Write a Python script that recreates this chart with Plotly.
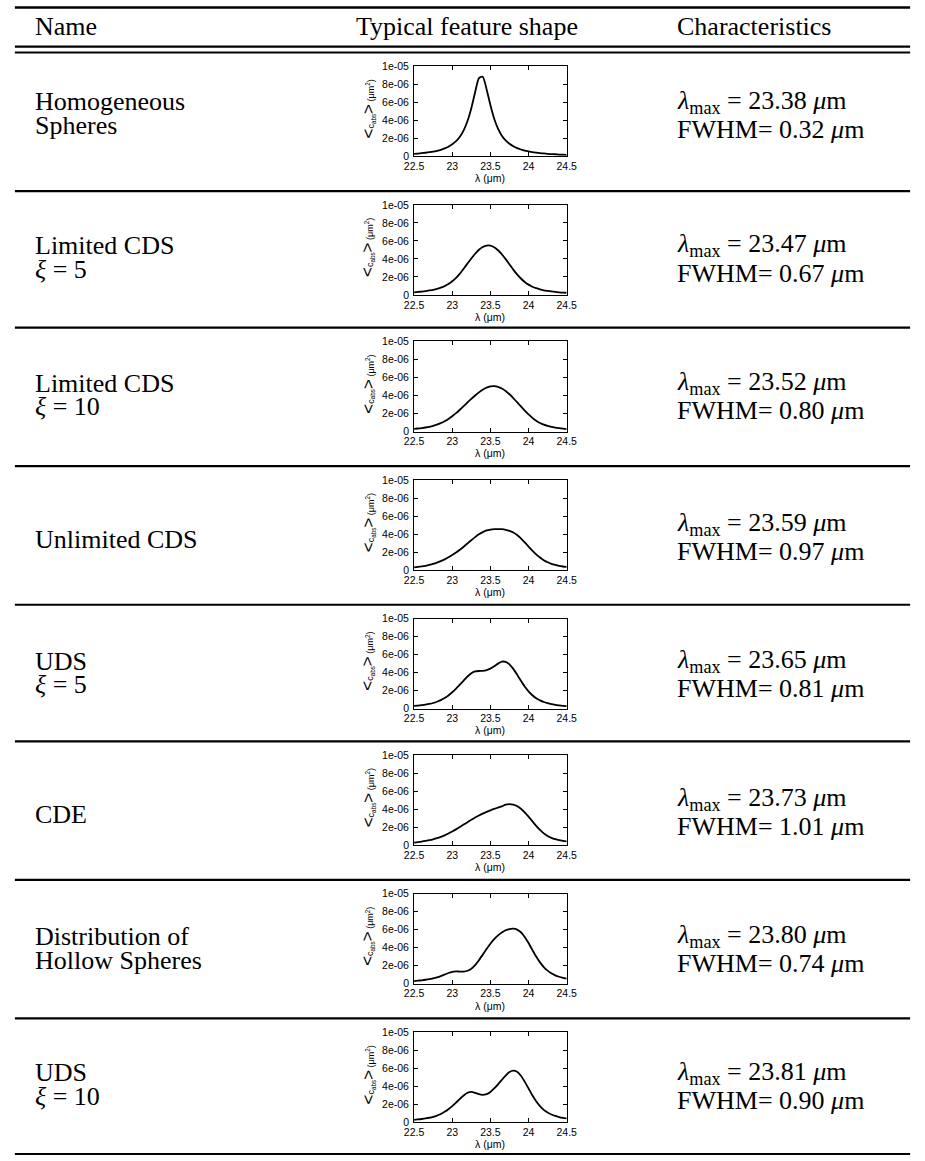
import plotly.graph_objects as go

# Wavelength sampling (micron) shared by every absorption profile
wavelength = [22.50, 22.55, 22.60, 22.65, 22.70, 22.75, 22.80, 22.85, 22.90, 22.95,
              23.00, 23.05, 23.10, 23.15, 23.20, 23.25, 23.30, 23.35, 23.40, 23.45,
              23.50, 23.55, 23.60, 23.65, 23.70, 23.75, 23.80, 23.85, 23.90, 23.95,
              24.00, 24.05, 24.10, 24.15, 24.20, 24.25, 24.30, 24.35, 24.40, 24.45,
              24.50]

# Mean absorption cross section <C_abs> in units of 1e-6 micron^2
homogeneous_spheres = [0.28, 0.32, 0.36, 0.41, 0.47, 0.54, 0.63, 0.74, 0.89, 1.08,
                       1.34, 1.69, 2.19, 2.90, 3.93, 5.36, 7.12, 8.70, 8.85, 7.47,
                       5.70, 4.18, 3.08, 2.31, 1.78, 1.40, 1.13, 0.92, 0.77, 0.65,
                       0.56, 0.48, 0.42, 0.37, 0.33, 0.29, 0.26, 0.24, 0.21, 0.19,
                       0.18]
limited_cds_5 = [0.30, 0.34, 0.38, 0.43, 0.50, 0.58, 0.68, 0.82, 0.99, 1.22,
                 1.52, 1.90, 2.38, 2.92, 3.49, 4.05, 4.58, 5.02, 5.33, 5.49,
                 5.48, 5.30, 4.97, 4.52, 3.98, 3.40, 2.82, 2.29, 1.83, 1.45,
                 1.15, 0.92, 0.75, 0.62, 0.52, 0.45, 0.39, 0.34, 0.30, 0.27,
                 0.25]
limited_cds_10 = [0.30, 0.34, 0.39, 0.45, 0.53, 0.63, 0.76, 0.93, 1.14, 1.40,
                  1.70, 2.04, 2.42, 2.82, 3.23, 3.63, 4.01, 4.35, 4.65, 4.88,
                  5.02, 5.05, 4.97, 4.78, 4.50, 4.14, 3.72, 3.26, 2.79, 2.33,
                  1.90, 1.52, 1.20, 0.95, 0.76, 0.62, 0.51, 0.43, 0.37, 0.32,
                  0.28]
unlimited_cds = [0.30, 0.35, 0.41, 0.48, 0.57, 0.68, 0.82, 0.99, 1.19, 1.42,
                 1.67, 1.95, 2.26, 2.60, 2.96, 3.32, 3.66, 3.97, 4.22, 4.40,
                 4.50, 4.55, 4.56, 4.54, 4.48, 4.36, 4.17, 3.89, 3.52, 3.08,
                 2.62, 2.17, 1.75, 1.39, 1.10, 0.87, 0.70, 0.57, 0.47, 0.40,
                 0.35]
uds_5 = [0.30, 0.34, 0.39, 0.45, 0.53, 0.63, 0.77, 0.95, 1.18, 1.47,
         1.82, 2.22, 2.66, 3.12, 3.57, 3.94, 4.13, 4.18, 4.20, 4.28,
         4.44, 4.70, 5.00, 5.22, 5.20, 4.92, 4.42, 3.78, 3.10, 2.46,
         1.92, 1.49, 1.16, 0.92, 0.74, 0.61, 0.51, 0.43, 0.37, 0.32,
         0.28]
cde = [0.30, 0.35, 0.41, 0.48, 0.56, 0.66, 0.78, 0.93, 1.10, 1.30,
       1.52, 1.76, 2.02, 2.29, 2.56, 2.82, 3.07, 3.30, 3.51, 3.70,
       3.87, 4.03, 4.18, 4.32, 4.50, 4.56, 4.50, 4.34, 4.06, 3.66,
       3.18, 2.66, 2.15, 1.70, 1.32, 1.03, 0.82, 0.67, 0.56, 0.48,
       0.42]
hollow_spheres = [0.30, 0.34, 0.39, 0.45, 0.52, 0.61, 0.72, 0.86, 1.03, 1.20,
                  1.32, 1.37, 1.36, 1.36, 1.45, 1.68, 2.08, 2.62, 3.23, 3.86,
                  4.44, 4.95, 5.37, 5.70, 5.94, 6.08, 6.12, 6.02, 5.72, 5.20,
                  4.52, 3.76, 3.02, 2.38, 1.86, 1.46, 1.16, 0.94, 0.78, 0.66,
                  0.57]
uds_10 = [0.28, 0.32, 0.37, 0.43, 0.51, 0.61, 0.75, 0.93, 1.17, 1.46,
          1.80, 2.19, 2.60, 2.98, 3.28, 3.38, 3.28, 3.12, 3.06, 3.14,
          3.38, 3.76, 4.22, 4.72, 5.20, 5.58, 5.75, 5.62, 5.18, 4.52,
          3.76, 3.00, 2.34, 1.80, 1.39, 1.09, 0.87, 0.71, 0.59, 0.50,
          0.43]

profiles = [homogeneous_spheres, limited_cds_5, limited_cds_10, unlimited_cds,
            uds_5, cde, hollow_spheres, uds_10]

# Table text
names = [["Homogeneous", "Spheres"],
         ["Limited CDS", "<i>ξ</i> = 5"],
         ["Limited CDS", "<i>ξ</i> = 10"],
         ["Unlimited CDS"],
         ["UDS", "<i>ξ</i> = 5"],
         ["CDE"],
         ["Distribution of", "Hollow Spheres"],
         ["UDS", "<i>ξ</i> = 10"]]
lambda_max = ["23.38", "23.47", "23.52", "23.59", "23.65", "23.73", "23.80", "23.81"]
fwhm = ["0.32", "0.67", "0.80", "0.97", "0.81", "1.01", "0.74", "0.90"]

x_ticks = [22.5, 23, 23.5, 24, 24.5]
x_tick_text = ["22.5", "23", "23.5", "24", "24.5"]
y_ticks = [0, 2e-6, 4e-6, 6e-6, 8e-6, 1e-5]
y_tick_text = ["0", "2e-06", "4e-06", "6e-06", "8e-06", "1e-05"]

# ---- page geometry (pixels) ----
W, H = 925, 1161
row_rule = [47, 187, 325, 465, 605, 743, 883, 1023]   # rule above each row
bottom_rule = 1160
text_center = [109, 254, 393, 539, 674, 817, 952, 1090]
plot_left, plot_right = 413, 569
SERIF = "Liberation Serif"
SANS = "Liberation Sans"
TEXT_SIZE = 26
LINE_GAP = 12


def py(p):
    return 1 - p / H


def px(p):
    return p / W


fig = go.Figure()
annotations = []
shapes = []

for k, prof in enumerate(profiles):
    sfx = "" if k == 0 else str(k + 1)
    top = row_rule[k] + 14
    bot = top + 91
    fig.add_trace(go.Scatter(
        x=wavelength, y=[v * 1e-6 for v in prof], mode="lines",
        line=dict(color="black", width=1.8, shape="spline", smoothing=0.6),
        xaxis="x" + sfx, yaxis="y" + sfx, showlegend=False, hoverinfo="skip"))
    axis_common = dict(showline=True, linecolor="black", linewidth=1, mirror="ticks",
                       ticks="inside", ticklen=4, tickcolor="black", tickwidth=1,
                       showgrid=False, zeroline=False, fixedrange=True,
                       tickfont=dict(family=SANS, size=10.5, color="black"))
    fig.update_layout({
        "xaxis" + sfx: dict(domain=[px(plot_left), px(plot_right)], range=[22.5, 24.5],
                            anchor="y" + sfx, tickvals=x_ticks, ticktext=x_tick_text,
                            ticklabelstandoff=0, **axis_common),
        "yaxis" + sfx: dict(domain=[py(bot), py(top)], range=[0, 1e-5],
                            anchor="x" + sfx, tickvals=y_ticks, ticktext=y_tick_text,
                            ticklabelstandoff=2, **axis_common),
    })
    # axis titles
    annotations.append(dict(x=px((plot_left + plot_right) / 2), y=py(bot + 22),
                            xref="paper", yref="paper", text="λ (μm)", showarrow=False,
                            font=dict(family=SANS, size=10.5, color="black"),
                            xanchor="center", yanchor="middle"))
    annotations.append(dict(x=px(366), y=py((top + bot) / 2 - 2), xref="paper", yref="paper",
                            text="<span style='font-size:17px'>&lt;</span>c<sub>abs</sub>"
                                 "<span style='font-size:17px'>&gt;</span> (μm<sup>2</sup>)",
                            textangle=-90, showarrow=False,
                            font=dict(family=SANS, size=9, color="black"),
                            xanchor="center", yanchor="middle"))

    # name column
    tc = text_center[k]
    lines = names[k]
    if len(lines) == 2:
        ys = [tc - LINE_GAP, tc + LINE_GAP]
        char_ys = [tc - 12, tc + 16]
    else:
        ys = [tc]
        char_ys = [tc - 16, tc + 12]
    for txt, yy in zip(lines, ys):
        annotations.append(dict(x=px(23), y=py(yy), xref="paper", yref="paper", text=txt,
                                showarrow=False, xanchor="left", yanchor="middle",
                                font=dict(family=SERIF, size=TEXT_SIZE, color="black")))
    # characteristics column
    for txt, yy in zip([f"<i>λ</i><sub>max</sub> = {lambda_max[k]} <i>μ</i>m",
                        f"FWHM= {fwhm[k]} <i>μ</i>m"], char_ys):
        annotations.append(dict(x=px(680), y=py(yy), xref="paper", yref="paper", text=txt,
                                showarrow=False, xanchor="left", yanchor="middle",
                                font=dict(family=SERIF, size=TEXT_SIZE, color="black")))

# header
for txt, xx, anchor in [("Name", 23, "left"), ("Typical feature shape", 467, "center"),
                        ("Characteristics", 680, "left")]:
    annotations.append(dict(x=px(xx), y=py(21), xref="paper", yref="paper", text=txt,
                            showarrow=False, xanchor=anchor, yanchor="middle",
                            font=dict(family=SERIF, size=TEXT_SIZE, color="black")))

# table rules
for yy, wdt in [(1.5, 2.5), (41, 2.2), (47, 2.2)] + [(r, 2.2) for r in row_rule[1:]] + [(bottom_rule, 2.2)]:
    shapes.append(dict(type="line", xref="paper", yref="paper", x0=px(5), x1=px(920),
                       y0=py(yy), y1=py(yy), line=dict(color="black", width=wdt)))

fig.update_layout(width=W, height=H, margin=dict(l=0, r=0, t=0, b=0),
                  paper_bgcolor="white", plot_bgcolor="white",
                  annotations=annotations, shapes=shapes, showlegend=False)

fig.write_html("out.html")
